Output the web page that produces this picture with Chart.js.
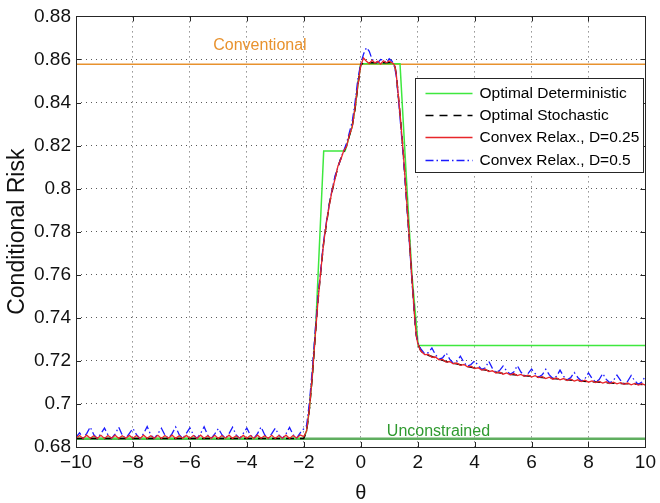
<!DOCTYPE html>
<html>
<head>
<meta charset="utf-8">
<title>Conditional Risk</title>
<script src="https://cdn.jsdelivr.net/npm/chart.js@4.4.0/dist/chart.umd.min.js"></script>
<style>
  html, body { margin: 0; padding: 0; background: #fff; }
  #wrap { width: 660px; height: 503px; }
</style>
</head>
<body>
<div id="wrap"><canvas id="riskChart" width="660" height="503"></canvas></div>
<script>
// ---- axis ticks ----
const xTicks = [-10, -8, -6, -4, -2, 0, 2, 4, 6, 8, 10];
const xTickLabels = ['\u221210', '\u22128', '\u22126', '\u22124', '\u22122', '0', '2', '4', '6', '8', '10'];
const yTicks = [0.68, 0.70, 0.72, 0.74, 0.76, 0.78, 0.80, 0.82, 0.84, 0.86, 0.88];
const yTickLabels = ['0.68', '0.7', '0.72', '0.74', '0.76', '0.78', '0.8', '0.82', '0.84', '0.86', '0.88'];

// ---- theta grids ----
const leftTheta = [
  -10, -9.875, -9.75, -9.625, -9.5, -9.375, -9.25, -9.125,
  -9, -8.875, -8.75, -8.625, -8.5, -8.375, -8.25, -8.125,
  -8, -7.875, -7.75, -7.625, -7.5, -7.375, -7.25, -7.125,
  -7, -6.875, -6.75, -6.625, -6.5, -6.375, -6.25, -6.125,
  -6, -5.875, -5.75, -5.625, -5.5, -5.375, -5.25, -5.125,
  -5, -4.875, -4.75, -4.625, -4.5, -4.375, -4.25, -4.125,
  -4, -3.875, -3.75, -3.625, -3.5, -3.375, -3.25, -3.125,
  -3, -2.875, -2.75, -2.625, -2.5, -2.375, -2.25, -2.125,
  -2
];
const coreTheta = [
  -1.9, -1.8, -1.7, -1.6, -1.5, -1.4, -1.3, -1.2, -1.1, -1.0,
  -0.9, -0.8, -0.7, -0.6, -0.5, -0.4, -0.3, -0.2, -0.1, 0.0,
  0.1, 0.2, 0.3, 0.4, 0.5, 0.6, 0.7, 0.8, 0.9, 1.0, 1.1,
  1.15, 1.2, 1.25, 1.3,
  1.4, 1.5, 1.6, 1.7, 1.8, 1.9,
  1.95, 2.0, 2.05, 2.1, 2.175
];
const tailTheta = [
  2.25, 2.375, 2.5, 2.625, 2.75, 2.875, 3, 3.125,
  3.25, 3.375, 3.5, 3.625, 3.75, 3.875, 4, 4.125,
  4.25, 4.375, 4.5, 4.625, 4.75, 4.875, 5, 5.125,
  5.25, 5.375, 5.5, 5.625, 5.75, 5.875, 6, 6.125,
  6.25, 6.375, 6.5, 6.625, 6.75, 6.875, 7, 7.125,
  7.25, 7.375, 7.5, 7.625, 7.75, 7.875, 8, 8.125,
  8.25, 8.375, 8.5, 8.625, 8.75, 8.875, 9, 9.125,
  9.25, 9.375, 9.5, 9.625, 9.75, 9.875, 10
];

// ---- reference levels ----
const conventionalTheta = [-10, 10];
const conventionalRisk = [0.8578, 0.8578];
const unconstrainedTheta = [-10, 10];
const unconstrainedRisk = [0.6838, 0.6838];

// ---- optimal deterministic ----
const detTheta = [-10, -2.0, -1.9, -1.8, -1.7, -1.58, -1.3, -0.55, -0.5, -0.4, -0.3, -0.2, -0.1, 0.0, 1.38, 1.6, 1.8, 2.02, 10];
const detRisk = [0.684, 0.684, 0.6875, 0.698, 0.713, 0.736, 0.8175, 0.8175, 0.8195, 0.8245, 0.829, 0.837, 0.848, 0.858, 0.858, 0.806, 0.760, 0.7272, 0.7272];

// ---- optimal stochastic ----
const stochLeftTheta = [-10, -2.0];
const stochLeft = [0.684, 0.684];
const stochCore = [
  0.6875, 0.698, 0.713, 0.731, 0.748, 0.762, 0.775, 0.784, 0.793, 0.799,
  0.805, 0.810, 0.814, 0.817, 0.820, 0.8245, 0.829, 0.837, 0.848, 0.8575,
  0.8585, 0.8586, 0.8585, 0.8586, 0.8585, 0.8585, 0.8586, 0.8585, 0.8585, 0.8586, 0.8585,
  0.858, 0.857, 0.853, 0.846,
  0.832, 0.816, 0.797, 0.778, 0.758, 0.739,
  0.732, 0.7285, 0.7265, 0.725, 0.7238
];
const stochTailTheta = [2.25, 2.5, 3, 3.5, 4, 5, 6, 7, 8, 9, 10];
const stochTail = [0.7232, 0.722, 0.7197, 0.7182, 0.7167, 0.7141, 0.7128, 0.7115, 0.7104, 0.7096, 0.709];

// ---- convex relaxation, D = 0.25 ----
const redLeft = [
  0.6841, 0.6853, 0.6840, 0.6855, 0.6841, 0.6852, 0.6840, 0.6854,
  0.6840, 0.6853, 0.6841, 0.6855, 0.6840, 0.6852, 0.6841, 0.6854,
  0.6841, 0.6853, 0.6840, 0.6855, 0.6841, 0.6852, 0.6840, 0.6854,
  0.6840, 0.6853, 0.6841, 0.6855, 0.6840, 0.6852, 0.6841, 0.6854,
  0.6841, 0.6853, 0.6840, 0.6855, 0.6841, 0.6852, 0.6840, 0.6854,
  0.6840, 0.6853, 0.6841, 0.6855, 0.6840, 0.6852, 0.6841, 0.6854,
  0.6841, 0.6853, 0.6840, 0.6855, 0.6841, 0.6852, 0.6840, 0.6854,
  0.6840, 0.6853, 0.6841, 0.6855, 0.6840, 0.6853, 0.6842, 0.6856,
  0.6848
];
const redCore = [
  0.6875, 0.698, 0.713, 0.731, 0.748, 0.762, 0.775, 0.7845, 0.7925, 0.7995,
  0.8045, 0.8105, 0.8135, 0.8175, 0.8195, 0.8248, 0.8285, 0.8375, 0.8478, 0.8572,
  0.8607, 0.8592, 0.8581, 0.8596, 0.8584, 0.8591, 0.8579, 0.8594, 0.8585, 0.8593, 0.8584,
  0.858, 0.857, 0.853, 0.8462,
  0.832, 0.8158, 0.797, 0.7782, 0.758, 0.7392,
  0.7322, 0.7283, 0.7265, 0.7248, 0.7238
];
const redTail = [
  0.7229, 0.7230, 0.7217, 0.7218, 0.7205, 0.7207, 0.7194, 0.7197,
  0.7186, 0.7190, 0.7179, 0.7183, 0.7172, 0.7175, 0.7164, 0.7168,
  0.7157, 0.7161, 0.7150, 0.7154, 0.7143, 0.7148, 0.7138, 0.7144,
  0.7135, 0.7141, 0.7132, 0.7137, 0.7128, 0.7134, 0.7125, 0.7131,
  0.7122, 0.7127, 0.7118, 0.7124, 0.7115, 0.7121, 0.7112, 0.7118,
  0.7109, 0.7115, 0.7106, 0.7112, 0.7104, 0.7110, 0.7101, 0.7107,
  0.7099, 0.7105, 0.7097, 0.7103, 0.7095, 0.7101, 0.7093, 0.7099,
  0.7091, 0.7097, 0.7089, 0.7095, 0.7088, 0.7094, 0.7087
];

// ---- convex relaxation, D = 0.5 ----
const blueLeft = [
  0.6845, 0.6866, 0.6842, 0.6862, 0.6893, 0.6857, 0.6840, 0.6862,
  0.6888, 0.6856, 0.6840, 0.6861, 0.6892, 0.6855, 0.6840, 0.6863,
  0.6886, 0.6857, 0.6840, 0.6862, 0.6895, 0.6856, 0.6840, 0.6861,
  0.6887, 0.6855, 0.6840, 0.6862, 0.6893, 0.6857, 0.6840, 0.6863,
  0.6889, 0.6856, 0.6840, 0.6862, 0.6894, 0.6855, 0.6840, 0.6861,
  0.6886, 0.6857, 0.6840, 0.6862, 0.6892, 0.6856, 0.6840, 0.6863,
  0.6888, 0.6855, 0.6840, 0.6862, 0.6893, 0.6857, 0.6840, 0.6862,
  0.6887, 0.6856, 0.6840, 0.6861, 0.6891, 0.6857, 0.6841, 0.6866,
  0.6885
];
const blueCore = [
  0.690, 0.701, 0.716, 0.734, 0.750, 0.763, 0.776, 0.785, 0.793, 0.800,
  0.806, 0.810, 0.814, 0.8175, 0.821, 0.826, 0.831, 0.840, 0.851, 0.858,
  0.8625, 0.8655, 0.8638, 0.8600, 0.8592, 0.8585, 0.8600, 0.8597, 0.8584, 0.8603, 0.8592,
  0.858, 0.856, 0.852, 0.845,
  0.830, 0.814, 0.796, 0.777, 0.757, 0.739,
  0.7325, 0.7288, 0.7272, 0.7258, 0.7245
];
const blueTail = [
  0.7232, 0.7238, 0.7260, 0.7229, 0.7208, 0.7214, 0.7237, 0.7208,
  0.7189, 0.7197, 0.7222, 0.7193, 0.7175, 0.7183, 0.7200, 0.7178,
  0.7160, 0.7168, 0.7198, 0.7165, 0.7146, 0.7155, 0.7176, 0.7154,
  0.7138, 0.7148, 0.7178, 0.7148, 0.7131, 0.7141, 0.7162, 0.7141,
  0.7125, 0.7135, 0.7161, 0.7135, 0.7118, 0.7128, 0.7157, 0.7128,
  0.7112, 0.7122, 0.7146, 0.7123, 0.7107, 0.7117, 0.7144, 0.7118,
  0.7102, 0.7113, 0.7141, 0.7114, 0.7098, 0.7109, 0.7134, 0.7110,
  0.7094, 0.7105, 0.7132, 0.7107, 0.7091, 0.7102, 0.7130
];

// ---- text ----
const legendLabels = ['Optimal Deterministic', 'Optimal Stochastic', 'Convex Relax., D=0.25', 'Convex Relax., D=0.5'];
const levelLabels = [
  { text: 'Conventional', theta: -3.54, risk: 0.8664, color: '#e8922e' },
  { text: 'Unconstrained', theta: 2.73, risk: 0.6873, color: '#2f9a2f' }
];

const FONT_FAMILY = '"Liberation Sans", Arial, Helvetica, sans-serif';

const LAYOUT = {
  yAxisWidth: 76,
  xAxisHeight: 56,
  tickLen: 5,
  legendWidth: 228,
  legendHeight: 94,
  legendTop: 62,
  legendRight: 2,
  legendFirstRow: 14,
  legendRowGap: 22.4,
  legendLineStart: 10,
  legendLineLen: 47,
  legendTextGap: 7,
  legendFont: 15.5,
  labelFont: 16
};

const RiskChart = {
  /**
   * Zips theta and value arrays into {x, y} points
   */
  toPoints(thetas, values) {
    return thetas.map((t, i) => ({ x: t, y: values[i] }));
  },

  /**
   * Draws box and inward ticks like a MATLAB axes
   */
  drawFrame(chart) {
    const { ctx, chartArea: a, scales } = chart;
    const tl = LAYOUT.tickLen;
    ctx.save();
    ctx.strokeStyle = '#262626';
    ctx.lineWidth = 1;
    ctx.setLineDash([]);
    ctx.beginPath();
    for (const v of xTicks) {
      const px = Math.round(scales.x.getPixelForValue(v)) + 0.5;
      ctx.moveTo(px, a.bottom); ctx.lineTo(px, a.bottom - tl);
      ctx.moveTo(px, a.top); ctx.lineTo(px, a.top + tl);
    }
    for (const v of yTicks) {
      const py = Math.round(scales.y.getPixelForValue(v)) + 0.5;
      ctx.moveTo(a.left, py); ctx.lineTo(a.left + tl, py);
      ctx.moveTo(a.right, py); ctx.lineTo(a.right - tl, py);
    }
    ctx.stroke();
    ctx.strokeRect(Math.round(a.left) + 0.5, Math.round(a.top) + 0.5,
      Math.round(a.right - a.left), Math.round(a.bottom - a.top));
    ctx.restore();
  },

  /**
   * Draws the level annotations in data coordinates
   */
  drawLevelLabels(chart) {
    const { ctx, scales } = chart;
    ctx.save();
    ctx.font = `${LAYOUT.labelFont}px ${FONT_FAMILY}`;
    ctx.textAlign = 'center';
    ctx.textBaseline = 'middle';
    for (const lbl of levelLabels) {
      ctx.fillStyle = lbl.color;
      ctx.fillText(lbl.text, scales.x.getPixelForValue(lbl.theta), scales.y.getPixelForValue(lbl.risk));
    }
    ctx.restore();
  },

  /**
   * Draws the boxed legend in the upper right
   */
  drawLegend(chart) {
    const { ctx, chartArea: a } = chart;
    const L = LAYOUT;
    const left = Math.round(a.right - L.legendRight - L.legendWidth) + 0.5;
    const top = Math.round(a.top + L.legendTop) + 0.5;
    ctx.save();
    ctx.fillStyle = '#fff';
    ctx.fillRect(left, top, L.legendWidth, L.legendHeight);
    ctx.strokeStyle = '#262626';
    ctx.lineWidth = 1;
    ctx.strokeRect(left, top, L.legendWidth, L.legendHeight);
    ctx.font = `${L.legendFont}px ${FONT_FAMILY}`;
    ctx.textBaseline = 'middle';
    ctx.textAlign = 'left';

    const entries = legendLabels.map(name => chart.data.datasets.find(ds => ds.label === name));
    entries.forEach((ds, i) => {
      const y = Math.round(top + L.legendFirstRow + i * L.legendRowGap) + 0.5;
      const x0 = left + L.legendLineStart;
      ctx.strokeStyle = ds.borderColor;
      ctx.lineWidth = ds.borderWidth;
      ctx.setLineDash(ds.borderDash || []);
      ctx.beginPath();
      ctx.moveTo(x0, y);
      ctx.lineTo(x0 + L.legendLineLen, y);
      ctx.stroke();
      ctx.setLineDash([]);
      ctx.fillStyle = '#000';
      ctx.fillText(ds.label, x0 + L.legendLineLen + L.legendTextGap, y);
    });
    ctx.restore();
  },

  /**
   * Builds datasets from the named arrays
   */
  buildDatasets() {
    const line = { pointRadius: 0, pointHoverRadius: 0, fill: false, tension: 0 };
    return [
      {
        ...line, label: legendLabels[3], order: 2,
        data: this.toPoints([...leftTheta, ...coreTheta, ...tailTheta], [...blueLeft, ...blueCore, ...blueTail]),
        borderColor: '#1a1aff', borderWidth: 1.3, borderDash: [8, 3, 1.5, 3]
      },
      {
        ...line, label: legendLabels[2], order: 1,
        data: this.toPoints([...leftTheta, ...coreTheta, ...tailTheta], [...redLeft, ...redCore, ...redTail]),
        borderColor: '#e8262a', borderWidth: 1.3
      },
      {
        ...line, label: legendLabels[1], order: 3,
        data: this.toPoints([...stochLeftTheta, ...coreTheta, ...stochTailTheta], [...stochLeft, ...stochCore, ...stochTail]),
        borderColor: '#000000', borderWidth: 1.5, borderDash: [8, 6]
      },
      {
        ...line, label: legendLabels[0], order: 4,
        data: this.toPoints(detTheta, detRisk),
        borderColor: '#3ee83e', borderWidth: 1.5
      },
      {
        ...line, label: 'Unconstrained', order: 5,
        data: this.toPoints(unconstrainedTheta, unconstrainedRisk),
        borderColor: '#5fae5f', borderWidth: 2.5
      },
      {
        ...line, label: 'Conventional', order: 6,
        data: this.toPoints(conventionalTheta, conventionalRisk),
        borderColor: '#e8922e', borderWidth: 1.5
      }
    ];
  },

  render() {
    const canvas = document.getElementById('riskChart');
    const ctx = canvas.getContext('2d');
    Chart.defaults.font.family = FONT_FAMILY;
    Chart.defaults.color = '#111';
    const renderer = this;

    const gridStyle = { color: '#5a5a5a', lineWidth: 1, drawTicks: false };
    const borderStyle = { display: false, dash: [1, 4] };

    new Chart(ctx, {
      type: 'line',
      data: { datasets: this.buildDatasets() },
      options: {
        responsive: false,
        animation: false,
        events: [],
        layout: { padding: { top: 12, right: 12, left: 0, bottom: 0 } },
        plugins: { legend: { display: false }, tooltip: { enabled: false } },
        scales: {
          x: {
            type: 'linear', min: -10, max: 10,
            afterBuildTicks(scale) { scale.ticks = xTicks.map(v => ({ value: v })); },
            afterFit(scale) { scale.height = LAYOUT.xAxisHeight; },
            ticks: {
              autoSkip: false, maxRotation: 0, padding: 4,
              font: { size: 19 }, color: '#111',
              callback: (v, i) => xTickLabels[i]
            },
            grid: gridStyle,
            border: borderStyle,
            title: { display: true, text: '\u03b8', font: { size: 20, lineHeight: 1 }, padding: { top: 0, bottom: 0 }, color: '#111' }
          },
          y: {
            type: 'linear', min: 0.68, max: 0.88,
            afterBuildTicks(scale) { scale.ticks = yTicks.map(v => ({ value: v })); },
            afterFit(scale) { scale.width = LAYOUT.yAxisWidth; },
            ticks: {
              autoSkip: false, padding: 5,
              font: { size: 19 }, color: '#111',
              callback: (v, i) => yTickLabels[i]
            },
            grid: gridStyle,
            border: borderStyle,
            title: { display: true, text: 'Conditional Risk', font: { size: 23 }, padding: { top: 4, bottom: 0 }, color: '#111' }
          }
        }
      },
      plugins: [{
        id: 'matlabAxes',
        afterDatasetsDraw(chart) { renderer.drawFrame(chart); },
        afterDraw(chart) {
          renderer.drawLevelLabels(chart);
          renderer.drawLegend(chart);
        }
      }]
    });
  }
};

RiskChart.render();
</script>
</body>
</html>
